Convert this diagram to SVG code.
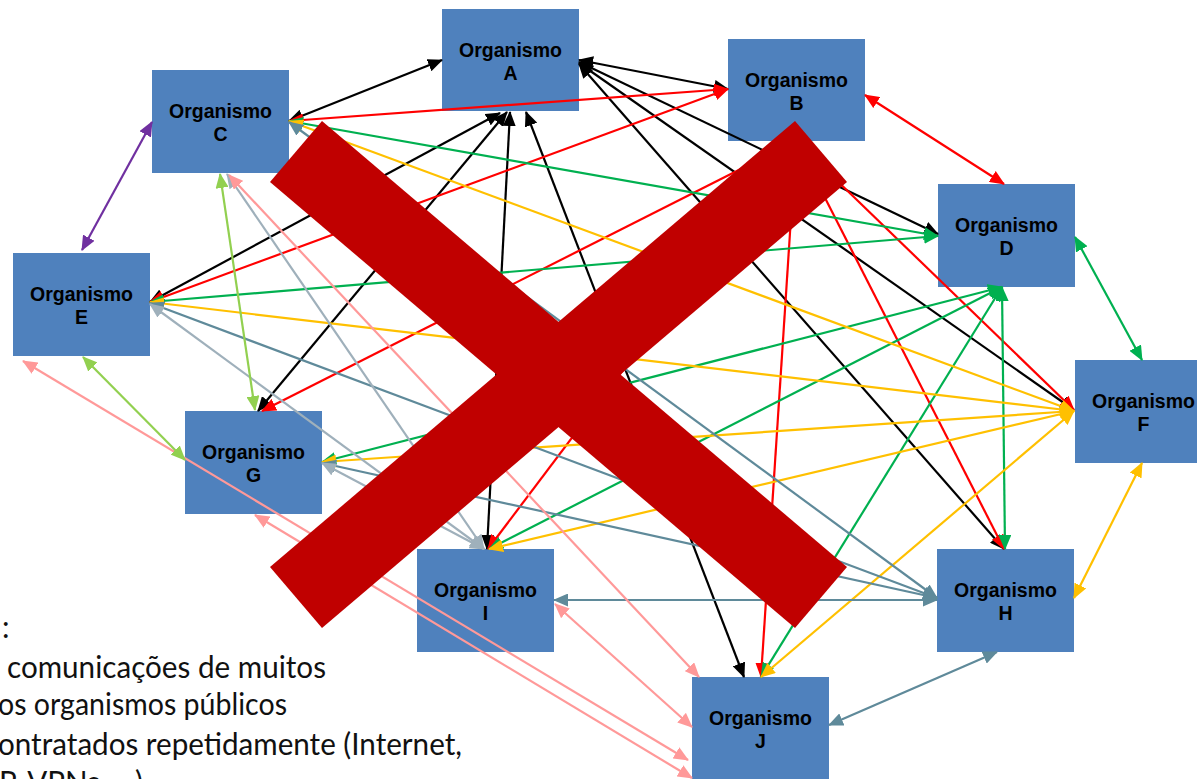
<svg xmlns="http://www.w3.org/2000/svg" width="1197" height="779" viewBox="0 0 1197 779">
  <style>
    .box { fill: #4F81BD; }
    .lbl { font-family: "Liberation Sans", Arial, sans-serif; font-weight: bold; font-size: 19.5px; fill: #000; text-anchor: middle; }
    .note { font-family: Lato, "Open Sans", sans-serif; font-size: 30px; fill: #111; }
    .c line { stroke-width: 2.2; fill: none; }
    .k line { stroke: #000000; marker-start: url(#ak); marker-end: url(#ak); }
    .r line { stroke: #FF0000; marker-start: url(#ar); marker-end: url(#ar); }
    .g line { stroke: #00B050; marker-start: url(#ag); marker-end: url(#ag); }
    .y line { stroke: #FFC000; marker-start: url(#ay); marker-end: url(#ay); }
    .sb line { stroke: #5F8A9A; marker-start: url(#asb); marker-end: url(#asb); }
    .gr line { stroke: #9FB0BB; marker-start: url(#agr); marker-end: url(#agr); }
    .pk line { stroke: #FF9999; marker-start: url(#apk); marker-end: url(#apk); }
    .pu line { stroke: #7030A0; marker-start: url(#apu); marker-end: url(#apu); }
    .lg line { stroke: #92D050; marker-start: url(#alg); marker-end: url(#alg); }
    .cross { fill: #C00000; }
  </style>
  <defs>
    <marker id="ak" markerUnits="userSpaceOnUse" viewBox="0 0 15 13" refX="14" refY="6.5" markerWidth="15" markerHeight="13" orient="auto-start-reverse"><path d="M0,0 L15,6.5 L0,13 z" fill="#000000"/></marker>
    <marker id="ar" markerUnits="userSpaceOnUse" viewBox="0 0 15 13" refX="14" refY="6.5" markerWidth="15" markerHeight="13" orient="auto-start-reverse"><path d="M0,0 L15,6.5 L0,13 z" fill="#FF0000"/></marker>
    <marker id="ag" markerUnits="userSpaceOnUse" viewBox="0 0 15 13" refX="14" refY="6.5" markerWidth="15" markerHeight="13" orient="auto-start-reverse"><path d="M0,0 L15,6.5 L0,13 z" fill="#00B050"/></marker>
    <marker id="ay" markerUnits="userSpaceOnUse" viewBox="0 0 15 13" refX="14" refY="6.5" markerWidth="15" markerHeight="13" orient="auto-start-reverse"><path d="M0,0 L15,6.5 L0,13 z" fill="#FFC000"/></marker>
    <marker id="asb" markerUnits="userSpaceOnUse" viewBox="0 0 15 13" refX="14" refY="6.5" markerWidth="15" markerHeight="13" orient="auto-start-reverse"><path d="M0,0 L15,6.5 L0,13 z" fill="#5F8A9A"/></marker>
    <marker id="agr" markerUnits="userSpaceOnUse" viewBox="0 0 15 13" refX="14" refY="6.5" markerWidth="15" markerHeight="13" orient="auto-start-reverse"><path d="M0,0 L15,6.5 L0,13 z" fill="#9FB0BB"/></marker>
    <marker id="apk" markerUnits="userSpaceOnUse" viewBox="0 0 15 13" refX="14" refY="6.5" markerWidth="15" markerHeight="13" orient="auto-start-reverse"><path d="M0,0 L15,6.5 L0,13 z" fill="#FF9999"/></marker>
    <marker id="apu" markerUnits="userSpaceOnUse" viewBox="0 0 15 13" refX="14" refY="6.5" markerWidth="15" markerHeight="13" orient="auto-start-reverse"><path d="M0,0 L15,6.5 L0,13 z" fill="#7030A0"/></marker>
    <marker id="alg" markerUnits="userSpaceOnUse" viewBox="0 0 15 13" refX="14" refY="6.5" markerWidth="15" markerHeight="13" orient="auto-start-reverse"><path d="M0,0 L15,6.5 L0,13 z" fill="#92D050"/></marker>
  </defs>

  <rect width="1197" height="779" fill="#FFFFFF"/>

  <!-- organisation boxes -->
  <g id="nodeA"><rect class="box" x="442" y="9" width="137" height="102"/><text class="lbl" x="510.5" y="57">Organismo</text><text class="lbl" x="510.5" y="80">A</text></g>
  <g id="nodeB"><rect class="box" x="728" y="39" width="137" height="102"/><text class="lbl" x="796.5" y="87">Organismo</text><text class="lbl" x="796.5" y="110">B</text></g>
  <g id="nodeC"><rect class="box" x="152" y="70" width="137" height="103"/><text class="lbl" x="220.5" y="118">Organismo</text><text class="lbl" x="220.5" y="141">C</text></g>
  <g id="nodeD"><rect class="box" x="938" y="184" width="137" height="103"/><text class="lbl" x="1006.5" y="232">Organismo</text><text class="lbl" x="1006.5" y="255">D</text></g>
  <g id="nodeE"><rect class="box" x="13" y="253" width="137" height="103"/><text class="lbl" x="81.5" y="301">Organismo</text><text class="lbl" x="81.5" y="324">E</text></g>
  <g id="nodeF"><rect class="box" x="1075" y="360" width="137" height="103"/><text class="lbl" x="1143.5" y="408">Organismo</text><text class="lbl" x="1143.5" y="431">F</text></g>
  <g id="nodeG"><rect class="box" x="185" y="411" width="137" height="103"/><text class="lbl" x="253.5" y="459">Organismo</text><text class="lbl" x="253.5" y="482">G</text></g>
  <g id="nodeH"><rect class="box" x="937" y="549" width="137" height="103"/><text class="lbl" x="1005.5" y="597">Organismo</text><text class="lbl" x="1005.5" y="620">H</text></g>
  <g id="nodeI"><rect class="box" x="417" y="549" width="137" height="103"/><text class="lbl" x="485.5" y="597">Organismo</text><text class="lbl" x="485.5" y="620">I</text></g>
  <g id="nodeJ"><rect class="box" x="692" y="677" width="137" height="103"/><text class="lbl" x="760.5" y="725">Organismo</text><text class="lbl" x="760.5" y="748">J</text></g>

  <!-- point-to-point links, one colour per originating organisation -->
  <g id="connectors" class="c">
    <g class="k">
      <line x1="442" y1="60" x2="289" y2="121"/>
      <line x1="579" y1="60" x2="728" y2="89"/>
      <line x1="579" y1="62" x2="938" y2="234"/>
      <line x1="579" y1="63" x2="1074" y2="410"/>
      <line x1="579" y1="64" x2="1004" y2="549"/>
      <line x1="526" y1="112" x2="744" y2="677"/>
      <line x1="510" y1="112" x2="487" y2="549"/>
      <line x1="507" y1="112" x2="258" y2="411"/>
      <line x1="500" y1="113" x2="150" y2="302"/>
    </g>
    <g class="r">
      <line x1="728" y1="89" x2="289" y2="121"/>
      <line x1="728" y1="89" x2="150" y2="302"/>
      <line x1="865" y1="95" x2="1004" y2="184"/>
      <line x1="796" y1="141" x2="1074" y2="410"/>
      <line x1="796" y1="141" x2="1004" y2="549"/>
      <line x1="796" y1="141" x2="761" y2="677"/>
      <line x1="796" y1="141" x2="262" y2="411"/>
      <line x1="796" y1="141" x2="488" y2="549"/>
    </g>
    <g class="g">
      <line x1="938" y1="236" x2="289" y2="121"/>
      <line x1="938" y1="236" x2="150" y2="302"/>
      <line x1="1075" y1="237" x2="1142" y2="360"/>
      <line x1="1002" y1="287" x2="1005" y2="549"/>
      <line x1="1002" y1="287" x2="322" y2="462"/>
      <line x1="1002" y1="287" x2="489" y2="549"/>
      <line x1="1002" y1="287" x2="761" y2="677"/>
    </g>
    <g class="y">
      <line x1="1074" y1="411" x2="289" y2="121"/>
      <line x1="1074" y1="411" x2="150" y2="302"/>
      <line x1="1074" y1="411" x2="322" y2="462"/>
      <line x1="1074" y1="411" x2="489" y2="549"/>
      <line x1="1074" y1="411" x2="761" y2="677"/>
      <line x1="1142" y1="463" x2="1074" y2="598"/>
    </g>
    <g class="sb">
      <line x1="937" y1="598" x2="289" y2="122"/>
      <line x1="937" y1="598" x2="150" y2="303"/>
      <line x1="937" y1="598" x2="322" y2="463"/>
      <line x1="937" y1="600" x2="554" y2="600"/>
      <line x1="997" y1="652" x2="829" y2="725"/>
    </g>
    <g class="gr">
      <line x1="484" y1="549" x2="227" y2="174"/>
      <line x1="484" y1="549" x2="150" y2="304"/>
      <line x1="484" y1="549" x2="322" y2="463"/>
    </g>
    <g class="pk">
      <line x1="699" y1="677" x2="229" y2="175"/>
      <line x1="692" y1="727" x2="555" y2="604"/>
      <line x1="688" y1="760" x2="23" y2="361"/>
      <line x1="692" y1="778" x2="255" y2="515"/>
    </g>
    <g class="pu">
      <line x1="152" y1="122" x2="82" y2="250"/>
    </g>
    <g class="lg">
      <line x1="220" y1="174" x2="255" y2="410"/>
      <line x1="83" y1="357" x2="185" y2="460"/>
    </g>
  </g>

  <!-- crossing-out mark -->
  <g id="cross">
    <polygon class="cross" points="322,121 847,567 795,628 270,182"/>
    <polygon class="cross" points="795,121 847,182 322,628 270,567"/>
  </g>

  <!-- caption lines -->
  <g id="caption">
    <text class="note" x="2" y="638">:</text>
    <text class="note" x="7" y="678" textLength="319" lengthAdjust="spacingAndGlyphs">comunicações de muitos</text>
    <text class="note" x="-2" y="715" textLength="289" lengthAdjust="spacingAndGlyphs">os organismos públicos</text>
    <text class="note" x="-2" y="755" textLength="464" lengthAdjust="spacingAndGlyphs">ontratados repetidamente (Internet,</text>
    <text class="note" x="-1" y="793" textLength="144" lengthAdjust="spacingAndGlyphs">P, VPNs, ...)</text>
  </g>
</svg>
